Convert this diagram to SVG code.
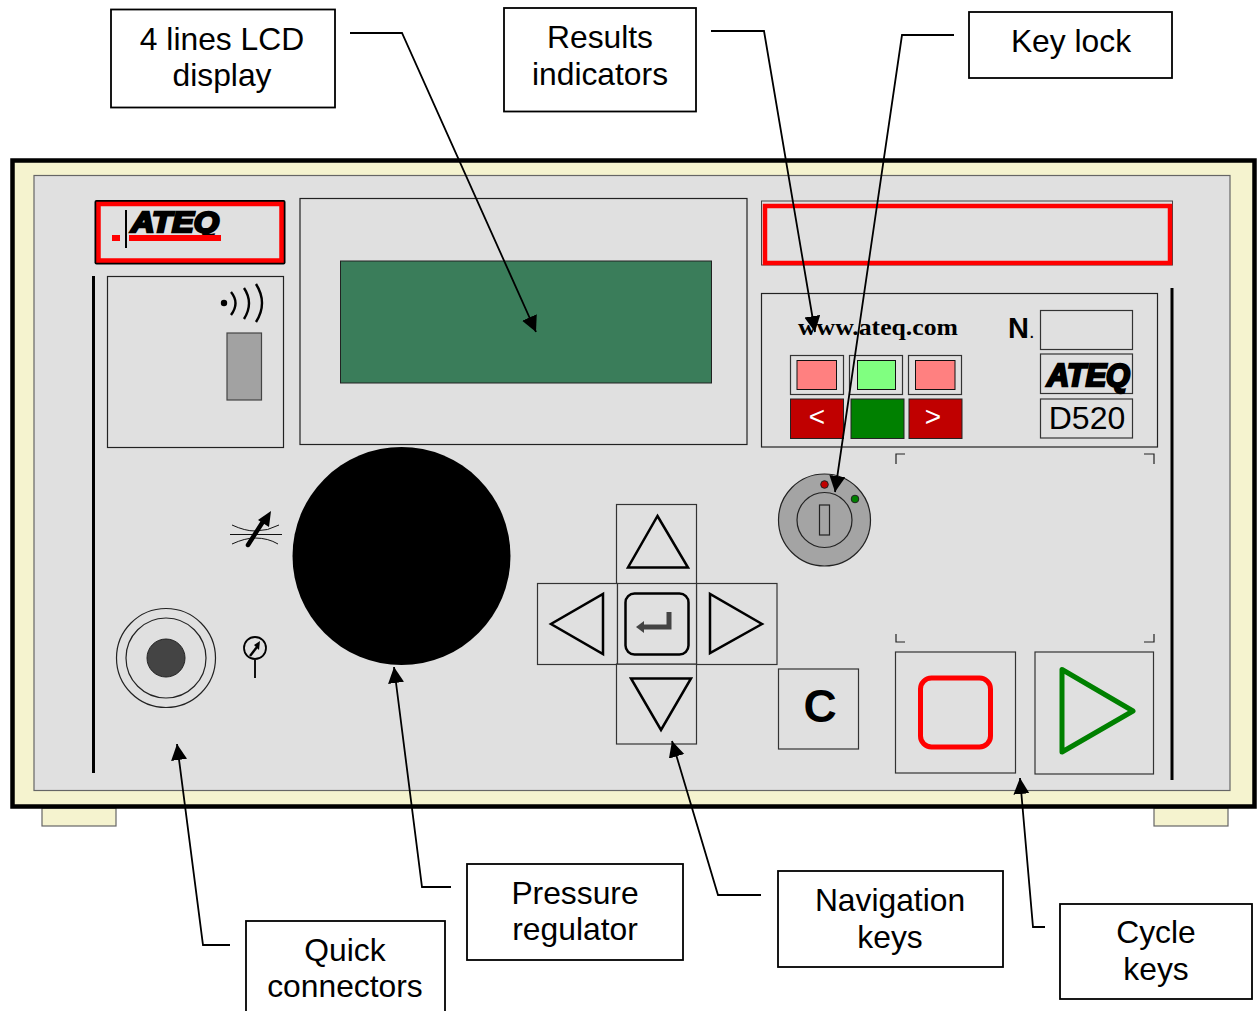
<svg xmlns="http://www.w3.org/2000/svg" width="1257" height="1011" viewBox="0 0 1257 1011">
<style>
text{font-family:"Liberation Sans",Arial,sans-serif;fill:#000}
.call rect{fill:#fff;stroke:#000;stroke-width:1.8}
.call text{font-size:31.800px;text-anchor:middle}
.thin{fill:none;stroke:#222;stroke-width:1.2}
.key{fill:#e0e0e0;stroke:#333;stroke-width:1.2}
.tri{fill:none;stroke:#000;stroke-width:2.5;stroke-linejoin:miter}
.logo{font-weight:bold;font-style:italic;stroke:#000;stroke-width:2.400}
.conn path{fill:none;stroke:#000;stroke-width:1.800;marker-end:url(#ah)}
</style>
<defs>
<marker id="ah" markerUnits="userSpaceOnUse" markerWidth="18" markerHeight="18" refX="16" refY="8" orient="auto"><path d="M0,0L16,8L0,16Z" fill="#000" stroke="none"/></marker>
</defs>
<rect width="1257" height="1011" fill="#fff"/>
<g id="panel">
<rect x="42" y="808" width="74" height="18" fill="#f5f3cf" stroke="#666" stroke-width="1.2"/>
<rect x="1154" y="808" width="74" height="18" fill="#f5f3cf" stroke="#666" stroke-width="1.2"/>
<rect x="12.500" y="160.500" width="1242" height="646" fill="#f5f3cf" stroke="#000" stroke-width="4.500"/>
<rect x="34" y="175.500" width="1196" height="615" fill="#e0e0e0" stroke="#666" stroke-width="1.2"/>
<path d="M93.500,276V773M1172,288V780" stroke="#000" stroke-width="3" fill="none"/>
</g>
<g id="ateq-logo">
<rect x="94.500" y="200" width="191" height="64.500" rx="2" fill="#000"/>
<rect x="98.500" y="204" width="183" height="56.500" fill="#e0e0e0" stroke="#f00" stroke-width="4.500"/>
<rect x="125" y="210" width="2" height="38" fill="#000"/>
<text x="131" y="232" class="logo" font-size="29" textLength="88" lengthAdjust="spacingAndGlyphs">ATEQ</text>
<rect x="112" y="235" width="8" height="6" fill="#f00"/>
<rect x="129" y="235" width="92" height="6" fill="#f00"/>
</g>
<g id="sensor-panel">
<rect x="107.500" y="276.500" width="176" height="171" class="thin"/>
<circle cx="224" cy="303" r="3.200" fill="#000"/>
<path d="M231,292Q240,303 231,315M244,288Q254,303 244,319M256,284Q268,303 256,322" fill="none" stroke="#000" stroke-width="2.400"/>
<rect x="227" y="333" width="34.500" height="67" fill="#a2a2a2" stroke="#444" stroke-width="1.2"/>
</g>
<g id="lcd">
<rect x="300" y="198.500" width="447" height="246" class="thin"/>
<rect x="340.500" y="261" width="371" height="122" fill="#3a7d5a" stroke="#222" stroke-width="1"/>
</g>
<g id="result-bar">
<rect x="761.500" y="201" width="411" height="64" fill="#e0e0e0" stroke="#444" stroke-width="1"/>
<rect x="765" y="206" width="405" height="57" fill="#e0e0e0" stroke="#f00" stroke-width="4.500"/>
</g>
<g id="results-indicators">
<rect x="761.500" y="293.500" width="396" height="153.500" class="thin"/>
<text x="878" y="335" font-size="23" font-weight="bold" text-anchor="middle" textLength="160" lengthAdjust="spacingAndGlyphs" style="font-family:'Liberation Serif',serif">www.ateq.com</text>
<rect x="790.500" y="355.500" width="53" height="39" class="key"/>
<rect x="797" y="360.500" width="39.500" height="29" fill="#ff8080" stroke="#111" stroke-width="1"/>
<rect x="849.500" y="355.500" width="53" height="39" class="key"/>
<rect x="857.500" y="360.500" width="38" height="29" fill="#80ff80" stroke="#111" stroke-width="1"/>
<rect x="908.500" y="355.500" width="53" height="39" class="key"/>
<rect x="915.500" y="360.500" width="39.500" height="29" fill="#ff8080" stroke="#111" stroke-width="1"/>
<rect x="790.500" y="399" width="53" height="39.500" fill="#c00000" stroke="#222" stroke-width="1"/>
<rect x="851" y="399" width="53" height="39.500" fill="#008000" stroke="#222" stroke-width="1"/>
<rect x="909" y="399" width="53" height="39.500" fill="#c00000" stroke="#222" stroke-width="1"/>
<text x="817" y="426" font-size="28" text-anchor="middle" style="fill:#fff">&lt;</text>
<text x="933" y="426" font-size="28" text-anchor="middle" style="fill:#fff">&gt;</text>
<text x="1008" y="338" font-size="29" font-weight="bold">N</text>
<text x="1029" y="338" font-size="20">.</text>
<rect x="1040.500" y="310.500" width="92" height="39" class="key"/>
<rect x="1040.500" y="354" width="92" height="39.500" class="key"/>
<text x="1047" y="386" class="logo" font-size="31" textLength="83" lengthAdjust="spacingAndGlyphs">ATEQ</text>
<rect x="1040.500" y="399" width="92" height="39" class="key"/>
<text x="1087" y="429" font-size="32" text-anchor="middle">D520</text>
</g>
<g id="corners"><path d="M896,464V454H905M1144,454H1154V464M896,634V642H905M1144,642H1154V634" fill="none" stroke="#222" stroke-width="1.2"/></g>
<g id="key-lock">
<circle cx="824.500" cy="520" r="46" fill="#a4a4a4" stroke="#222" stroke-width="1.200"/>
<circle cx="824.500" cy="520" r="27.500" fill="#a4a4a4" stroke="#222" stroke-width="1.200"/>
<rect x="819.500" y="505" width="10" height="30" fill="#a4a4a4" stroke="#222" stroke-width="1.200"/>
<circle cx="824.500" cy="484.500" r="3.800" fill="#c00000" stroke="#222" stroke-width="1"/>
<circle cx="855" cy="499" r="3.800" fill="#008000" stroke="#222" stroke-width="1"/>
</g>
<g id="regulator"><circle cx="401.500" cy="556" r="109" fill="#000"/>
<path d="M232,525Q245,531 255,531Q268,531 279,525M232,544Q245,538 255,538Q268,538 278,544" fill="none" stroke="#111" stroke-width="1"/>
<path d="M230,534.500H282" stroke="#111" stroke-width="1.200"/>
<path d="M248,545L264,520" stroke="#000" stroke-width="4.500" stroke-linecap="round"/>
<path d="M258,520L271,511L269,527Z" fill="#000"/>
</g>
<g id="connector">
<circle cx="166" cy="658" r="49.500" class="thin"/>
<circle cx="166" cy="658" r="40" class="thin"/>
<circle cx="166" cy="658" r="19" fill="#444" stroke="#222" stroke-width="1"/>
<circle cx="255" cy="648" r="11" fill="none" stroke="#000" stroke-width="1.800"/>
<path d="M250,656L257,647" stroke="#000" stroke-width="2.400"/><path d="M254,645L260,641L259,650Z" fill="#000"/>
<path d="M255,659V678" stroke="#111" stroke-width="2"/>
</g>
<g id="nav-keys">
<rect x="616.500" y="504.500" width="80" height="80" class="key"/>
<rect x="537.500" y="583.500" width="80" height="81" class="key"/>
<rect x="696.500" y="583.500" width="80.500" height="81" class="key"/>
<rect x="616.500" y="664" width="80" height="80" class="key"/>
<rect x="617.500" y="583.500" width="79" height="80.500" class="key"/>
<path d="M657.500,516L688,567.500H628Z" class="tri"/>
<path d="M603,594V654L551,624Z" class="tri"/>
<path d="M710,594V653L762,624Z" class="tri"/>
<path d="M631,678.500H691L661,730Z" class="tri"/>
<rect x="625.500" y="593.500" width="63" height="61" rx="9" fill="none" stroke="#000" stroke-width="2.500"/>
<path d="M669,612V627H641" fill="none" stroke="#444" stroke-width="5"/>
<path d="M636,627L644,621V633Z" fill="#444"/>
</g>
<g id="clear-key">
<rect x="778.500" y="669" width="80" height="80" class="key"/>
<text x="820" y="722" font-size="46" font-weight="bold" text-anchor="middle">C</text>
</g>
<g id="cycle-keys">
<rect x="895.500" y="652" width="120" height="121" class="key"/>
<rect x="920.500" y="678" width="70" height="69" rx="11" fill="none" stroke="#f00" stroke-width="5"/>
<rect x="1035" y="652" width="118.500" height="122" class="key"/>
<path d="M1062,669.500V752L1133,711Z" fill="none" stroke="#008000" stroke-width="5" stroke-linejoin="round"/>
</g>
<g id="connectors" class="conn">
<path d="M350,33H402L536,332"/>
<path d="M711,31H764L815,332"/>
<path d="M954,35H902L835,492"/>
<path d="M230,945H203L177,744"/>
<path d="M451,887H422L394,667"/>
<path d="M761,895H718L672,741"/>
<path d="M1045,927H1033L1020,778"/>
</g>
<g id="label-lcd" class="call"><rect x="111" y="9.500" width="224" height="98"/><text x="222" y="50">4 lines LCD</text><text x="222" y="86">display</text></g>
<g id="label-results" class="call"><rect x="504" y="8" width="192" height="103.500"/><text x="600" y="48">Results</text><text x="600" y="85">indicators</text></g>
<g id="label-keylock" class="call"><rect x="969" y="12" width="203" height="66"/><text x="1071" y="52">Key lock</text></g>
<g id="label-quick" class="call"><rect x="246" y="921" width="199" height="100"/><text x="345" y="961">Quick</text><text x="345" y="997">connectors</text></g>
<g id="label-pressure" class="call"><rect x="467" y="864" width="216" height="96"/><text x="575" y="904">Pressure</text><text x="575" y="940">regulator</text></g>
<g id="label-nav" class="call"><rect x="778" y="871" width="225" height="96"/><text x="890" y="911">Navigation</text><text x="890" y="948">keys</text></g>
<g id="label-cycle" class="call"><rect x="1060" y="904" width="192" height="95"/><text x="1156" y="943">Cycle</text><text x="1156" y="980">keys</text></g>
</svg>
